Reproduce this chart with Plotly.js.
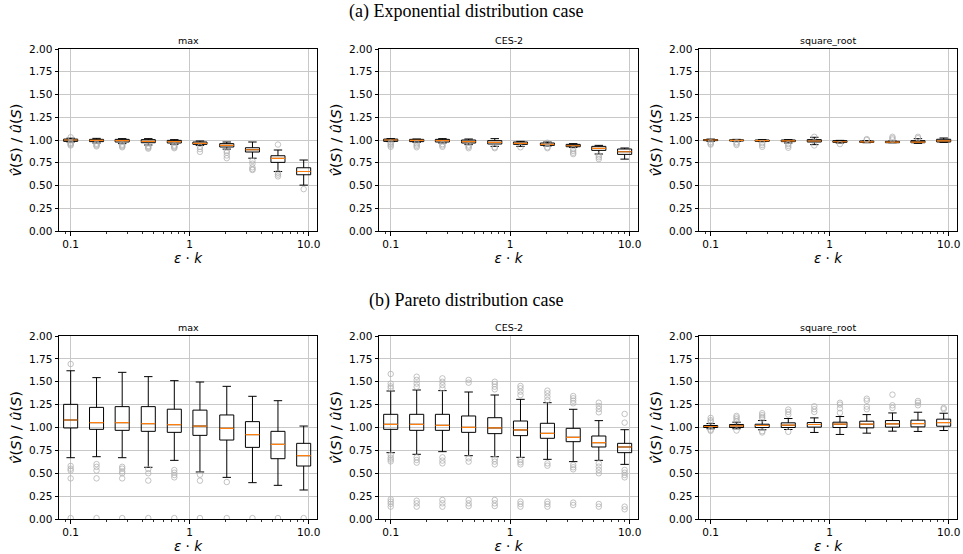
<!DOCTYPE html>
<html>
<head>
<meta charset="utf-8">
<script src="https://cdn.plot.ly/plotly-3.0.1.min.js"></script>
<style>html,body{margin:0;padding:0;background:#fff;}#chart{width:963px;height:554px;}</style>
</head>
<body>
<div id="chart"></div>
<script>
// ε·k positions of the ten boxes
const epsK = [0.1, 0.165, 0.271, 0.449, 0.743, 1.22, 2.05, 3.37, 5.52, 9.08];
const xTickVals = [0.1, 1, 10];
const xTickText = ['0.1', '1', '10.0'];
const xMinorVals = [0.09, 0.2, 0.3, 0.4, 0.5, 0.6, 0.7, 0.8, 0.9, 2, 3, 4, 5, 6, 7, 8, 9];
const panelTitles = ['max', 'CES-2', 'square_root'];
const rowTitles = ['(a) Exponential distribution case', '(b) Pareto distribution case'];

// (a) Exponential — max
const expMaxLo  = [0.978, 0.967, 0.960, 0.945, 0.952, 0.941, 0.900, 0.800, 0.654, 0.504];
const expMaxQ1  = [0.985, 0.982, 0.978, 0.970, 0.967, 0.952, 0.923, 0.868, 0.754, 0.618];
const expMaxMed = [1.000, 0.996, 0.993, 0.985, 0.982, 0.963, 0.941, 0.893, 0.798, 0.654];
const expMaxQ3  = [1.010, 1.007, 1.007, 1.004, 0.996, 0.978, 0.960, 0.915, 0.827, 0.695];
const expMaxHi  = [1.020, 1.018, 1.015, 1.015, 1.004, 0.989, 0.978, 0.978, 0.890, 0.780];
const expMaxOut = [[1.03, 0.97, 0.96, 0.95, 0.94], [0.96, 0.95, 0.94, 0.93], [0.95, 0.94, 0.93, 0.92], [0.935, 0.925, 0.915, 0.905], [0.94, 0.93, 0.92, 0.91], [0.925, 0.90, 0.87], [0.88, 0.86, 0.83, 0.80], [0.77, 0.74, 0.70, 0.68, 0.67], [0.95, 0.64, 0.62, 0.60], [0.46]];

// (a) Exponential — CES-2
const expCesLo  = [0.982, 0.975, 0.967, 0.949, 0.930, 0.930, 0.934, 0.919, 0.846, 0.790];
const expCesQ1  = [0.985, 0.982, 0.978, 0.967, 0.956, 0.952, 0.941, 0.926, 0.886, 0.842];
const expCesMed = [1.000, 0.996, 0.993, 0.982, 0.974, 0.963, 0.952, 0.937, 0.908, 0.871];
const expCesQ3  = [1.010, 1.007, 1.007, 1.000, 0.993, 0.978, 0.967, 0.952, 0.930, 0.901];
const expCesHi  = [1.015, 1.011, 1.015, 1.011, 1.015, 0.985, 0.978, 0.960, 0.941, 0.912];
const expCesOut = [[0.97, 0.955, 0.94, 0.925], [0.965, 0.95, 0.935, 0.92], [0.955, 0.94, 0.925], [0.94, 0.925, 0.91], [0.92, 0.91], [0.92], [0.97, 0.92, 0.91], [0.90, 0.88, 0.86, 0.845], [0.83, 0.81, 0.79], []];

// (a) Exponential — square_root
const expSqLo  = [0.985, 0.985, 0.982, 0.967, 0.949, 0.967, 0.970, 0.970, 0.963, 0.974];
const expSqQ1  = [0.993, 0.989, 0.985, 0.982, 0.978, 0.974, 0.974, 0.970, 0.970, 0.978];
const expSqMed = [1.000, 0.996, 0.993, 0.990, 0.989, 0.981, 0.980, 0.976, 0.977, 0.990];
const expSqQ3  = [1.005, 1.002, 1.000, 1.000, 1.004, 0.993, 0.989, 0.985, 0.993, 1.008];
const expSqHi  = [1.010, 1.007, 1.004, 1.004, 1.030, 0.996, 0.993, 0.989, 1.015, 1.022];
const expSqOut = [[0.975, 0.96, 0.95], [0.975, 0.96, 0.945], [0.965, 0.945, 0.925], [0.955, 0.935, 0.915], [1.035, 0.94], [0.955], [1.01, 1.0], [1.035, 1.02, 1.005], [1.035, 1.02], []];

// (b) Pareto — max
const parMaxLo  = [0.670, 0.681, 0.670, 0.565, 0.641, 0.514, 0.455, 0.397, 0.368, 0.317];
const parMaxQ1  = [0.995, 0.980, 0.969, 0.958, 0.947, 0.914, 0.863, 0.783, 0.659, 0.579];
const parMaxMed = [1.082, 1.053, 1.053, 1.042, 1.031, 1.016, 0.991, 0.922, 0.816, 0.692];
const parMaxQ3  = [1.253, 1.220, 1.228, 1.228, 1.200, 1.190, 1.137, 1.064, 0.958, 0.827];
const parMaxHi  = [1.620, 1.545, 1.603, 1.556, 1.512, 1.497, 1.450, 1.341, 1.293, 1.016];
const parMaxOut = [[1.694, 0.58, 0.55, 0.53, 0.444, 0.01], [0.60, 0.57, 0.53, 0.444, 0.01], [0.57, 0.55, 0.52, 0.50, 0.444, 0.01], [0.546, 0.50, 0.42, 0.01], [0.535, 0.506, 0.481, 0.455, 0.01], [0.484, 0.419, 0.01], [0.404, 0.01], [0.01], [0.01], [0.01]];

// (b) Pareto — CES-2
const parCesLo  = [0.725, 0.707, 0.736, 0.692, 0.681, 0.674, 0.652, 0.627, 0.641, 0.597];
const parCesQ1  = [0.980, 0.969, 0.969, 0.947, 0.933, 0.911, 0.882, 0.845, 0.787, 0.725];
const parCesMed = [1.035, 1.035, 1.024, 1.002, 0.995, 0.973, 0.936, 0.893, 0.834, 0.787];
const parCesQ3  = [1.144, 1.144, 1.144, 1.126, 1.107, 1.071, 1.046, 0.991, 0.907, 0.827];
const parCesHi  = [1.399, 1.410, 1.403, 1.388, 1.355, 1.308, 1.271, 1.199, 1.075, 0.976];
const parCesOut = [
  [1.585, 1.48, 1.45, 1.43, 0.70, 0.67, 0.65, 0.63, 0.215, 0.19, 0.165, 0.135],
  [1.555, 1.52, 1.48, 1.446, 0.674, 0.645, 0.616, 0.20, 0.171, 0.135],
  [1.537, 1.50, 1.464, 1.428, 0.674, 0.638, 0.608, 0.208, 0.171, 0.135],
  [1.52, 1.49, 0.663, 0.627, 0.208, 0.171, 0.142],
  [1.50, 1.475, 1.446, 1.417, 0.656, 0.627, 0.597, 0.208, 0.171, 0.142],
  [1.454, 1.428, 1.392, 1.355, 0.645, 0.62, 0.597, 0.19, 0.164, 0.135],
  [1.403, 1.373, 1.337, 1.30, 0.608, 0.583, 0.19, 0.164, 0.135],
  [1.344, 1.319, 1.293, 1.264, 0.59, 0.565, 0.543, 0.179, 0.153],
  [1.271, 1.235, 1.202, 1.166, 0.608, 0.572, 0.536, 0.50, 0.164, 0.135],
  [1.148, 1.053, 0.536, 0.506, 0.481, 0.455, 0.135, 0.106]
];

// (b) Pareto — square_root
const parSqLo  = [0.986, 0.986, 0.975, 0.978, 0.946, 0.924, 0.938, 0.960, 0.957, 0.967];
const parSqQ1  = [1.000, 1.000, 1.000, 1.000, 1.004, 1.000, 0.996, 1.004, 1.007, 1.014];
const parSqMed = [1.011, 1.018, 1.022, 1.025, 1.033, 1.036, 1.036, 1.040, 1.043, 1.054];
const parSqQ3  = [1.022, 1.033, 1.036, 1.051, 1.054, 1.058, 1.069, 1.076, 1.080, 1.091];
const parSqHi  = [1.043, 1.058, 1.076, 1.098, 1.105, 1.120, 1.141, 1.159, 1.167, 1.156];
const parSqOut = [[1.105, 1.08, 1.065, 0.975, 0.964], [1.127, 1.11, 1.09, 1.069, 0.967], [1.156, 1.135, 1.115, 1.098, 0.96, 0.946], [1.196, 1.17, 1.141, 0.953], [1.232, 1.2, 1.17], [1.27, 1.25, 1.21, 1.16], [1.315, 1.293, 1.228, 1.2], [1.359, 1.243, 1.214], [1.29, 1.27, 1.243], [1.214, 1.2]];

const panels = [
  {lo: expMaxLo, q1: expMaxQ1, med: expMaxMed, q3: expMaxQ3, hi: expMaxHi, out: expMaxOut},
  {lo: expCesLo, q1: expCesQ1, med: expCesMed, q3: expCesQ3, hi: expCesHi, out: expCesOut},
  {lo: expSqLo,  q1: expSqQ1,  med: expSqMed,  q3: expSqQ3,  hi: expSqHi,  out: expSqOut},
  {lo: parMaxLo, q1: parMaxQ1, med: parMaxMed, q3: parMaxQ3, hi: parMaxHi, out: parMaxOut},
  {lo: parCesLo, q1: parCesQ1, med: parCesMed, q3: parCesQ3, hi: parCesHi, out: parCesOut},
  {lo: parSqLo,  q1: parSqQ1,  med: parSqMed,  q3: parSqQ3,  hi: parSqHi,  out: parSqOut}
];

const W = 963, H = 554;
const xDomPx = [[59, 317], [379, 638], [699, 957]];
const yDomPx = [[49, 231], [336, 519]]; // top, bottom in px from top
const xPos = epsK.map(v => Math.log10(v));

const traces = [];
const layout = {
  width: W, height: H,
  margin: {l: 0, r: 0, t: 0, b: 0},
  paper_bgcolor: '#ffffff', plot_bgcolor: '#ffffff',
  showlegend: false, boxmode: 'overlay', hovermode: false,
  font: {family: 'DejaVu Sans', color: '#000000'},
  annotations: []
};

panels.forEach((p, i) => {
  const n = i + 1;
  const row = Math.floor(i / 3), col = i % 3;
  const xs = n === 1 ? 'x' : 'x' + n;
  const ys = n === 1 ? 'y' : 'y' + n;
  // outliers
  const ox = [], oy = [];
  p.out.forEach((arr, j) => arr.forEach(v => { ox.push(xPos[j]); oy.push(v); }));
  traces.push({
    type: 'scatter', mode: 'markers', x: ox, y: oy, xaxis: xs, yaxis: ys,
    marker: {symbol: 'circle-open', size: 5.5, color: 'rgba(175,175,175,0.75)', line: {width: 1}},
    hoverinfo: 'skip'
  });
  // boxes
  traces.push({
    type: 'box', x: xPos, q1: p.q1, median: p.med, q3: p.q3,
    lowerfence: p.lo, upperfence: p.hi, xaxis: xs, yaxis: ys,
    boxpoints: false, width: 0.118, whiskerwidth: 0.6,
    line: {color: '#000000', width: 1}, fillcolor: 'rgba(0,0,0,0)',
    hoverinfo: 'skip'
  });
  // orange medians
  traces.push({
    type: 'box', x: xPos, q1: p.med, median: p.med, q3: p.med,
    lowerfence: p.med, upperfence: p.med, xaxis: xs, yaxis: ys,
    boxpoints: false, width: 0.118, whiskerwidth: 0,
    line: {color: '#ff7f0e', width: 1.2}, fillcolor: 'rgba(0,0,0,0)',
    hoverinfo: 'skip'
  });

  const xd = [xDomPx[col][0] / W, xDomPx[col][1] / W];
  const yd = [1 - yDomPx[row][1] / H, 1 - yDomPx[row][0] / H];
  const xk = n === 1 ? 'xaxis' : 'xaxis' + n;
  const yk = n === 1 ? 'yaxis' : 'yaxis' + n;
  layout[xk] = {
    domain: xd, anchor: ys, range: [-1.098, 1.070],
    tickmode: 'array', tickvals: xTickVals.map(v => Math.log10(v)), ticktext: xTickText,
    ticks: 'outside', ticklen: 3.5, tickwidth: 1, tickcolor: '#000',
    showline: true, linecolor: '#000', linewidth: 1, mirror: true,
    showgrid: true, gridcolor: '#c8c8c8', gridwidth: 1, zeroline: false,
    tickfont: {family: 'DejaVu Sans', size: 10.5, color: '#000'},
    minor: {tickmode: 'array', tickvals: xMinorVals.map(v => Math.log10(v)), ticks: 'outside', ticklen: 2, tickwidth: 0.8, tickcolor: '#000', showgrid: false},
    title: {text: '<i>ε</i> · <i>k</i>', font: {family: 'DejaVu Sans', size: 13.5, color: '#000'}, standoff: 2}
  };
  layout[yk] = {
    domain: yd, anchor: xs, range: [0, 2],
    tick0: 0, dtick: 0.25, tickformat: '.2f',
    ticks: 'outside', ticklen: 3.5, tickwidth: 1, tickcolor: '#000',
    showline: true, linecolor: '#000', linewidth: 1, mirror: true,
    showgrid: true, gridcolor: '#c8c8c8', gridwidth: 1, zeroline: false,
    tickfont: {family: 'DejaVu Sans', size: 10.5, color: '#000'},
    title: {text: '<i>v\u0302</i>(<i>S</i>) / <i>\u00fb</i>(<i>S</i>)', font: {family: 'DejaVu Sans', size: 14.5, color: '#000'}, standoff: 3}
  };
  layout.annotations.push({
    text: panelTitles[col], xref: 'paper', yref: 'paper',
    x: (xd[0] + xd[1]) / 2, y: yd[1], yanchor: 'bottom', xanchor: 'center', yshift: 1,
    showarrow: false, font: {family: 'DejaVu Sans', size: 9.5, color: '#000'}
  });
});

rowTitles.forEach((t, r) => {
  layout.annotations.push({
    text: t, xref: 'paper', yref: 'paper', x: 466 / W, y: 1 - (r === 0 ? 12 : 300) / H,
    xanchor: 'center', yanchor: 'middle', showarrow: false,
    font: {family: 'Liberation Serif', size: 18, color: '#000'}
  });
});

Plotly.newPlot('chart', traces, layout, {staticPlot: true, displayModeBar: false});
</script>
</body>
</html>
